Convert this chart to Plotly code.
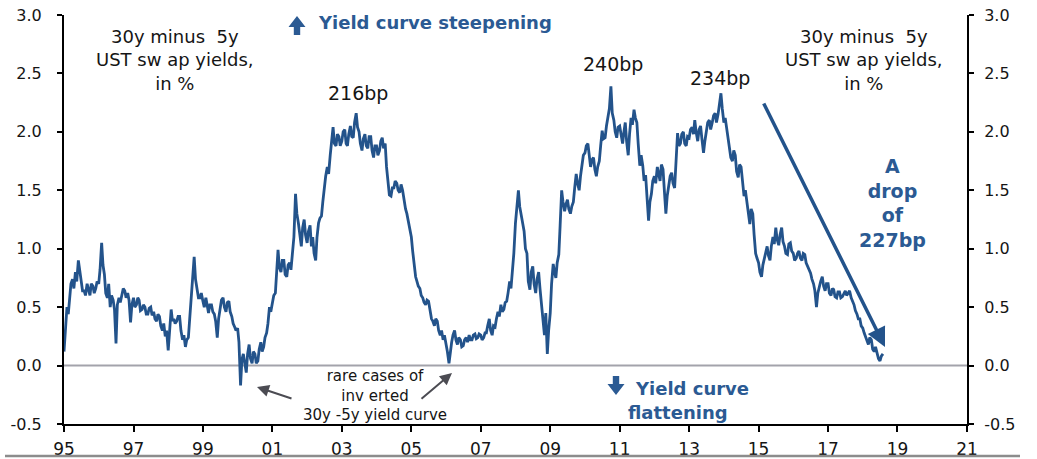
import pandas as pd
import plotly.graph_objects as go

# 30y minus 5y USD swap spread, %; readings on the 1st and 15th of each month
spread_1995 = [0.12, 0.30, 0.50, 0.44, 0.60, 0.70, 0.74, 0.66, 0.80, 0.72, 0.90, 0.82,
               0.76, 0.64, 0.64, 0.60, 0.70, 0.66, 0.60, 0.70, 0.68, 0.62, 0.66, 0.72]
spread_1996 = [0.70, 0.82, 1.05, 0.86, 0.78, 0.62, 0.58, 0.70, 0.50, 0.60, 0.56, 0.48,
               0.19, 0.52, 0.58, 0.54, 0.62, 0.66, 0.64, 0.58, 0.62, 0.56, 0.37, 0.52]
spread_1997 = [0.58, 0.50, 0.52, 0.58, 0.56, 0.47, 0.48, 0.52, 0.50, 0.44, 0.44, 0.49,
               0.50, 0.43, 0.46, 0.40, 0.38, 0.44, 0.42, 0.34, 0.30, 0.36, 0.25, 0.30]
spread_1998 = [0.13, 0.30, 0.48, 0.38, 0.40, 0.36, 0.38, 0.42, 0.42, 0.30, 0.22, 0.26,
               0.16, 0.22, 0.24, 0.40, 0.62, 0.70, 0.93, 0.74, 0.66, 0.58, 0.58, 0.62]
spread_1999 = [0.55, 0.50, 0.58, 0.50, 0.45, 0.52, 0.52, 0.46, 0.44, 0.38, 0.24, 0.40,
               0.50, 0.56, 0.58, 0.50, 0.46, 0.54, 0.55, 0.46, 0.42, 0.36, 0.33, 0.30]
spread_2000 = [0.32, 0.20, -0.17, 0.05, 0.10, 0.02, -0.06, 0.10, 0.18, 0.06, 0.02, 0.12,
               0.10, 0.02, 0.04, 0.14, 0.20, 0.12, 0.16, 0.24, 0.28, 0.36, 0.50, 0.46]
spread_2001 = [0.55, 0.60, 0.62, 0.80, 0.99, 0.84, 0.80, 0.90, 0.90, 0.78, 0.76, 0.86,
               0.88, 0.82, 0.95, 1.10, 1.47, 1.30, 1.22, 1.10, 1.02, 1.18, 1.25, 1.12]
spread_2002 = [1.05, 1.15, 1.20, 1.02, 1.10, 0.96, 0.90, 1.10, 1.22, 1.26, 1.28, 1.40,
               1.55, 1.62, 1.70, 1.64, 1.80, 1.92, 2.04, 1.90, 1.88, 1.98, 1.96, 1.88]
spread_2003 = [1.92, 2.00, 2.02, 1.90, 1.88, 1.98, 2.05, 1.96, 1.95, 2.08, 2.16, 2.04,
               2.00, 1.90, 1.84, 1.94, 1.98, 1.88, 1.86, 1.96, 1.96, 1.84, 1.78, 1.88]
spread_2004 = [1.88, 1.80, 1.84, 1.92, 1.95, 1.86, 1.90, 1.70, 1.55, 1.46, 1.45, 1.52,
               1.52, 1.58, 1.56, 1.50, 1.48, 1.55, 1.50, 1.42, 1.34, 1.30, 1.22, 1.16]
spread_2005 = [1.10, 0.98, 0.85, 0.76, 0.72, 0.68, 0.66, 0.60, 0.58, 0.54, 0.52, 0.56,
               0.55, 0.46, 0.40, 0.38, 0.34, 0.40, 0.38, 0.30, 0.26, 0.30, 0.22, 0.26]
spread_2006 = [0.19, 0.12, 0.02, 0.12, 0.20, 0.26, 0.30, 0.22, 0.18, 0.24, 0.22, 0.16,
               0.17, 0.22, 0.24, 0.20, 0.26, 0.22, 0.22, 0.26, 0.27, 0.23, 0.24, 0.27]
spread_2007 = [0.26, 0.22, 0.24, 0.28, 0.28, 0.34, 0.40, 0.30, 0.26, 0.34, 0.33, 0.40,
               0.46, 0.42, 0.52, 0.46, 0.48, 0.54, 0.55, 0.62, 0.72, 0.66, 0.82, 0.96]
spread_2008 = [1.22, 1.38, 1.50, 1.36, 1.28, 1.20, 1.15, 1.00, 0.96, 0.72, 0.65, 0.80,
               0.85, 0.70, 0.62, 0.74, 0.80, 0.66, 0.50, 0.40, 0.26, 0.45, 0.10, 0.30]
spread_2009 = [0.45, 0.70, 0.87, 0.80, 0.75, 0.88, 0.95, 1.20, 1.50, 1.40, 1.32, 1.38,
               1.42, 1.34, 1.30, 1.36, 1.40, 1.52, 1.64, 1.56, 1.50, 1.62, 1.72, 1.80]
spread_2010 = [1.82, 1.88, 1.90, 1.80, 1.70, 1.76, 1.78, 1.68, 1.62, 1.70, 1.75, 1.88,
               2.01, 1.94, 1.95, 2.05, 2.13, 2.20, 2.39, 2.16, 2.10, 2.00, 1.95, 2.04]
spread_2011 = [2.05, 1.96, 1.90, 2.00, 2.08, 1.92, 1.80, 1.98, 2.12, 2.06, 2.19, 2.12,
               2.08, 1.90, 1.71, 1.80, 1.71, 1.58, 1.63, 1.45, 1.24, 1.40, 1.47, 1.58]
spread_2012 = [1.62, 1.56, 1.70, 1.64, 1.58, 1.72, 1.68, 1.50, 1.30, 1.45, 1.55, 1.62,
               1.65, 1.56, 1.52, 1.75, 1.99, 1.88, 1.90, 1.98, 2.00, 1.90, 1.88, 1.96]
spread_2013 = [1.95, 2.02, 2.04, 1.98, 2.10, 2.00, 1.92, 2.02, 2.05, 1.94, 1.82, 1.92,
               2.00, 2.08, 2.10, 2.02, 2.08, 2.14, 2.16, 2.08, 2.15, 2.22, 2.33, 2.20]
spread_2014 = [2.08, 2.12, 2.02, 1.92, 1.87, 1.78, 1.75, 1.84, 1.80, 1.66, 1.61, 1.72,
               1.70, 1.55, 1.45, 1.50, 1.39, 1.30, 1.21, 1.34, 1.30, 1.12, 0.96, 0.92]
spread_2015 = [0.88, 0.80, 0.76, 0.86, 0.92, 0.98, 1.02, 0.94, 0.90, 1.02, 1.10, 1.04,
               1.18, 1.08, 1.03, 1.12, 1.18, 1.06, 1.02, 0.96, 0.95, 1.04, 1.05, 0.98]
spread_2016 = [0.96, 0.90, 0.92, 0.96, 0.98, 0.92, 0.90, 0.96, 0.95, 0.88, 0.85, 0.82,
               0.79, 0.74, 0.70, 0.64, 0.50, 0.62, 0.68, 0.72, 0.76, 0.68, 0.64, 0.70]
spread_2017 = [0.70, 0.62, 0.60, 0.66, 0.65, 0.59, 0.58, 0.63, 0.63, 0.58, 0.59, 0.62,
               0.64, 0.60, 0.62, 0.64, 0.58, 0.55, 0.52, 0.47, 0.44, 0.40, 0.40, 0.34]
spread_2018 = [0.32, 0.28, 0.24, 0.20, 0.18, 0.24, 0.22, 0.14, 0.12, 0.16, 0.10, 0.06,
               0.04, 0.08, 0.10]

spread = (spread_1995 + spread_1996 + spread_1997 + spread_1998 + spread_1999
          + spread_2000 + spread_2001 + spread_2002 + spread_2003 + spread_2004
          + spread_2005 + spread_2006 + spread_2007 + spread_2008 + spread_2009
          + spread_2010 + spread_2011 + spread_2012 + spread_2013 + spread_2014
          + spread_2015 + spread_2016 + spread_2017 + spread_2018)
dates = pd.date_range("1995-01-01", periods=len(spread), freq="SMS")

tick_years = list(range(1995, 2022, 2))
tick_dates = [f"{y}-01-01" for y in tick_years]
tick_text = [f"{y % 100:02d}" for y in tick_years]
y_ticks = [-0.5, 0.0, 0.5, 1.0, 1.5, 2.0, 2.5, 3.0]

W, H = 1037, 459
ML, MR, MT, MB = 64, 70, 15, 35
PW, PH = W - ML - MR, H - MT - MB


def px(x):
    return (x - ML) / PW


def py(y):
    return (H - MB - y) / PH


def block_arrow(xc, tip, base, tail, half_head=8.5, half_shaft=3.2):
    """Filled arrow glyph (pixel geometry) as an SVG path in paper coordinates."""
    pts = [(xc, tip), (xc + half_head, base), (xc + half_shaft, base),
           (xc + half_shaft, tail), (xc - half_shaft, tail), (xc - half_shaft, base),
           (xc - half_head, base)]
    return "M " + " L ".join(f"{px(x):.5f},{py(y):.5f}" for x, y in pts) + " Z"


BLUE = "#23538b"
TEXT_BLUE = "#2b5a93"
INK = "#151515"
FONT = "DejaVu Sans"

fig = go.Figure()
fig.add_trace(go.Scatter(
    x=dates, y=spread, mode="lines",
    line=dict(color=BLUE, width=2.8),
    showlegend=False, hoverinfo="skip",
))
# carrier for the right-hand axis
fig.add_trace(go.Scatter(
    x=dates, y=spread, mode="lines", yaxis="y2",
    line=dict(color="rgba(0,0,0,0)", width=0),
    showlegend=False, hoverinfo="skip",
))

axis_common = dict(
    range=[-0.5, 3.0], tickvals=y_ticks, ticktext=[f"{v:.1f}" for v in y_ticks],
    showgrid=False, zeroline=False, showline=True, linecolor="black", linewidth=2,
    ticks="outside", ticklen=5, tickwidth=2, tickcolor="black",
    tickfont=dict(family=FONT, size=16, color=INK), automargin=False,
)

fig.update_layout(
    width=W, height=H,
    margin=dict(l=ML, r=MR, t=MT, b=MB, autoexpand=False),
    paper_bgcolor="white", plot_bgcolor="white",
    xaxis=dict(
        type="date", range=["1995-01-01", "2021-01-01"],
        tickvals=tick_dates, ticktext=tick_text,
        showgrid=False, zeroline=False, showline=True, linecolor="black", linewidth=2,
        ticks="outside", ticklen=6, tickwidth=2, tickcolor="black",
        tickfont=dict(family=FONT, size=17, color=INK),
        ticklabelstandoff=3, automargin=False,
    ),
    yaxis=dict(**axis_common, side="left", ticklabelstandoff=12),
    yaxis2=dict(**axis_common, side="right", overlaying="y", ticklabelstandoff=7),
    shapes=[
        dict(type="line", xref="paper", yref="y", x0=0, x1=1, y0=0, y1=0,
             line=dict(color="#a3a3ab", width=2), layer="below"),
        dict(type="line", xref="paper", yref="paper", x0=px(5), x1=px(1020),
             y0=py(456), y1=py(456), line=dict(color="#8c8c8c", width=2.5)),
        # up / down glyphs beside the steepening and flattening captions
        dict(type="path", xref="paper", yref="paper",
             path=block_arrow(297, 16, 27, 35), fillcolor=TEXT_BLUE, line=dict(width=0)),
        dict(type="path", xref="paper", yref="paper",
             path=block_arrow(616, 395, 384, 376), fillcolor=TEXT_BLUE, line=dict(width=0)),
    ],
)

ann = []
black = dict(family=FONT, size=18, color=INK)
bold_blue = dict(family="DejaVu Sans", size=18, color=TEXT_BLUE, weight="bold")

for xc in (175, 864):
    ann.append(dict(xref="paper", yref="paper", x=px(xc), y=py(60),
                    text="30y minus  5y<br>UST sw ap yields,<br>in %",
                    showarrow=False, font=black, align="center",
                    xanchor="center", yanchor="middle"))

for label, xc, yc in (("216bp", 358, 93), ("240bp", 613, 64), ("234bp", 720, 78)):
    ann.append(dict(xref="paper", yref="paper", x=px(xc), y=py(yc), text=label,
                    showarrow=False, font=dict(family=FONT, size=19, color=INK),
                    xanchor="center", yanchor="middle"))

ann.append(dict(xref="paper", yref="paper", x=px(316), y=py(23),
                text="Yield curve steepening", showarrow=False, font=bold_blue,
                xanchor="left", yanchor="middle"))
ann.append(dict(xref="paper", yref="paper", x=px(633), y=py(388),
                text="Yield curve", showarrow=False, font=bold_blue,
                xanchor="left", yanchor="middle"))
ann.append(dict(xref="paper", yref="paper", x=px(678), y=py(412),
                text="flattening", showarrow=False, font=bold_blue,
                xanchor="center", yanchor="middle"))
ann.append(dict(xref="paper", yref="paper", x=px(892), y=py(203),
                text="A<br>drop<br>of<br>227bp", showarrow=False,
                font=dict(family="DejaVu Sans", size=19, color=TEXT_BLUE, weight="bold"),
                align="center", xanchor="center", yanchor="middle"))
ann.append(dict(xref="paper", yref="paper", x=px(375), y=py(395),
                text="rare cases of<br>inv erted<br>30y -5y yield curve",
                showarrow=False, font=dict(family=FONT, size=15, color=INK),
                align="center", xanchor="center", yanchor="middle"))


def arrow(head, tail, color, width, size, style=2):
    """Arrow pointing at pixel position head, drawn from pixel position tail."""
    return dict(xref="paper", yref="paper", x=px(head[0]), y=py(head[1]),
                ax=tail[0] - head[0], ay=tail[1] - head[1], axref="pixel", ayref="pixel",
                text="", showarrow=True, arrowhead=style, arrowsize=size,
                arrowwidth=width, arrowcolor=color)


# the 227bp drop
ann.append(arrow((885, 347), (763, 102), BLUE, 3.5, 1.1))
# pointers to the inversions
ann.append(arrow((257, 387), (293, 399), "#4b4b52", 2, 1.2))
ann.append(arrow((452, 373), (420, 400), "#4b4b52", 2, 1.2))

fig.update_layout(annotations=ann)
fig.write_html("out.html")
